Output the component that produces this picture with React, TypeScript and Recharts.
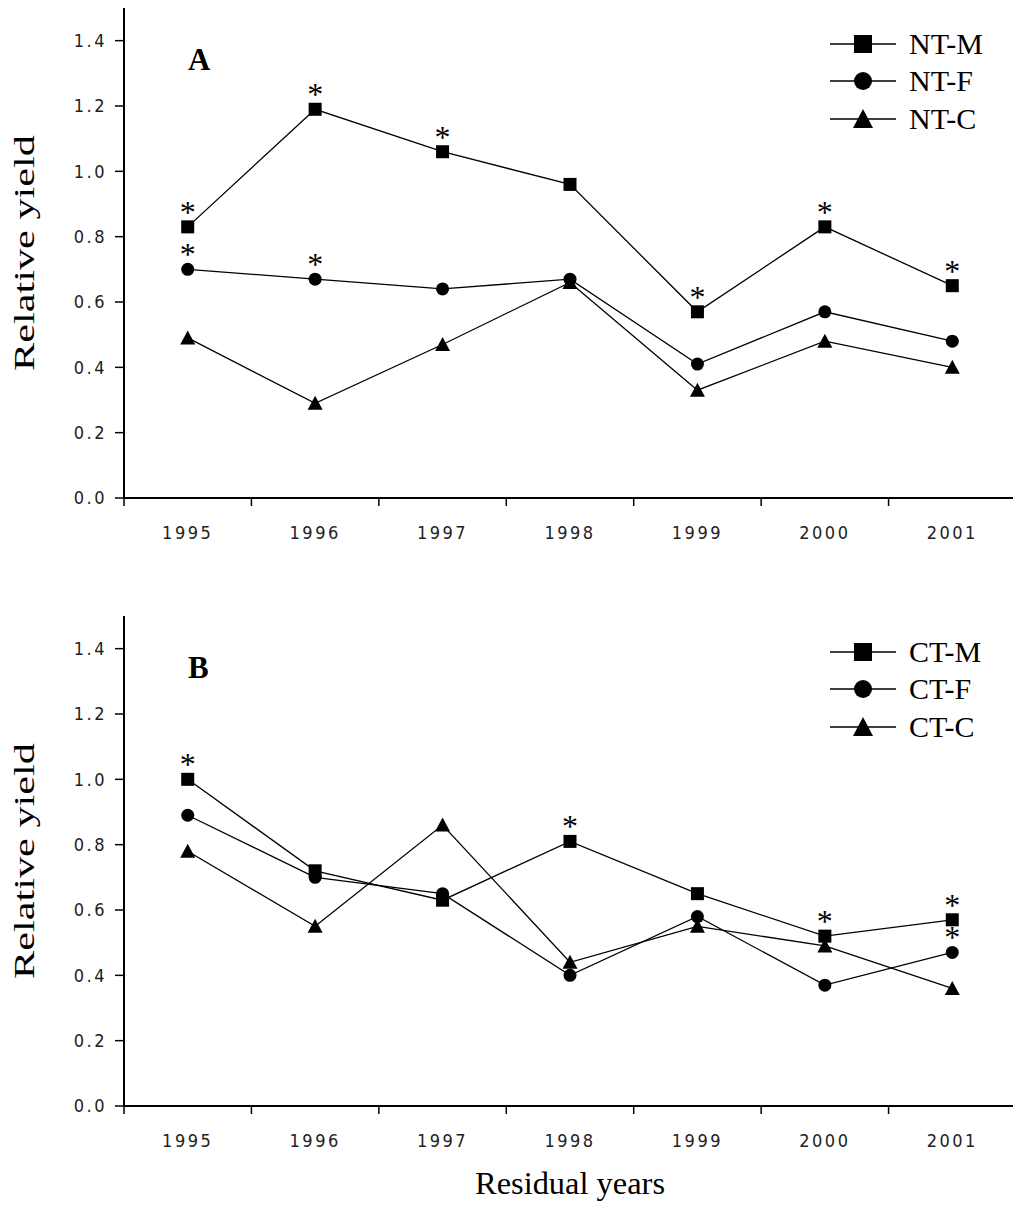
import { LineChart, Line, XAxis, YAxis, LabelList, Legend } from "recharts";

const years = ["1995", "1996", "1997", "1998", "1999", "2000", "2001"];

// panel A
const ntM = [0.83, 1.19, 1.06, 0.96, 0.57, 0.83, 0.65];
const ntF = [0.7, 0.67, 0.64, 0.67, 0.41, 0.57, 0.48];
const ntC = [0.49, 0.29, 0.47, 0.66, 0.33, 0.48, 0.4];
const ntMSig = [true, true, true, false, true, true, true];
const ntFSig = [true, true, false, false, false, false, false];

// panel B
const ctM = [1.0, 0.72, 0.63, 0.81, 0.65, 0.52, 0.57];
const ctF = [0.89, 0.7, 0.65, 0.4, 0.58, 0.37, 0.47];
const ctC = [0.78, 0.55, 0.86, 0.44, 0.55, 0.49, 0.36];
const ctMSig = [true, false, false, true, false, true, true];
const ctFSig = [false, false, false, false, false, false, true];

const yTicks = [0, 0.2, 0.4, 0.6, 0.8, 1.0, 1.2, 1.4];

const dataA = years.map((year, i) => ({
  year,
  m: ntM[i],
  f: ntF[i],
  c: ntC[i],
  mSig: ntMSig[i],
  fSig: ntFSig[i],
}));

const dataB = years.map((year, i) => ({
  year,
  m: ctM[i],
  f: ctF[i],
  c: ctC[i],
  mSig: ctMSig[i],
  fSig: ctFSig[i],
}));

const SERIF = "'Liberation Serif', 'Times New Roman', serif";
const NARROW = "'Liberation Sans Narrow', 'DejaVu Sans Condensed', sans-serif";

const CHART_W = 1030;
const PLOT_LEFT = 124;
const PLOT_RIGHT = 1016;
const HALF_STEP = (PLOT_RIGHT - PLOT_LEFT) / years.length / 2;

type Shape = "square" | "circle" | "triangle";

function Marker({ shape, cx, cy, size }: { shape: Shape; cx: number; cy: number; size: number }) {
  const h = size / 2;
  if (shape === "square") return <rect x={cx - h} y={cy - h} width={size} height={size} fill="#000" />;
  if (shape === "circle") return <circle cx={cx} cy={cy} r={h} fill="#000" />;
  return (
    <polygon
      points={`${cx},${cy - h - 1} ${cx - h - 1},${cy + h} ${cx + h + 1},${cy + h}`}
      fill="#000"
    />
  );
}

const dotOf = (shape: Shape) => (props: any) => {
  const { cx, cy, index } = props;
  if (cx == null || cy == null) return <g key={`d-${index}`} />;
  return (
    <g key={`d-${shape}-${index}`}>
      <Marker shape={shape} cx={cx} cy={cy} size={13} />
    </g>
  );
};

const renderStar = (props: any) => {
  const { x, y, value, index } = props;
  if (!value) return null;
  return (
    <text key={`s-${index}`} x={x} y={y - 4} textAnchor="middle" fontSize={32} fontFamily={SERIF} fill="#000">
      *
    </text>
  );
};

const XTick = (props: any) => {
  const { x, y, payload } = props;
  return (
    <g>
      <line x1={x - HALF_STEP} x2={x - HALF_STEP} y1={y} y2={y + 8} stroke="#000" strokeWidth={1.5} />
      <text
        x={x}
        y={y + 34}
        textAnchor="middle"
        dominantBaseline="central"
        fontSize={18}
        fontFamily={NARROW}
        letterSpacing={2.5}
        fill="#222"
      >
        {payload.value}
      </text>
    </g>
  );
};

const yTitle = (props: any) => {
  const { viewBox } = props;
  const cy = viewBox.y + viewBox.height / 2;
  return (
    <text
      x={24}
      y={cy}
      transform={`rotate(-90, 24, ${cy})`}
      textAnchor="middle"
      dominantBaseline="central"
      fontSize={29}
      textLength={236}
      lengthAdjust="spacingAndGlyphs"
      fontFamily={SERIF}
      fill="#000"
    >
      Relative yield
    </text>
  );
};

function makeLegend(names: string[]) {
  const shapes: Shape[] = ["square", "circle", "triangle"];
  return () => (
    <div>
      {names.map((n, i) => (
        <div key={n} style={{ display: "flex", alignItems: "center", height: 37.5 }}>
          <svg width={66} height={24} style={{ display: "block" }}>
            <line x1={0} x2={66} y1={12} y2={12} stroke="#000" strokeWidth={1.5} />
            <Marker shape={shapes[i]} cx={33} cy={12} size={18} />
          </svg>
          <span style={{ marginLeft: 13, fontFamily: SERIF, fontSize: 30, lineHeight: "30px", color: "#000" }}>
            {n}
          </span>
        </div>
      ))}
    </div>
  );
}

function Panel({
  data,
  names,
  letter,
  top,
  height,
  marginTop,
  xHeight,
  showXTitle,
}: {
  data: any[];
  names: string[];
  letter: string;
  top: number;
  height: number;
  marginTop: number;
  xHeight: number;
  showXTitle: boolean;
}) {
  return (
    <div style={{ position: "absolute", left: 0, top, width: CHART_W, height }}>
      <LineChart
        width={CHART_W}
        height={height}
        data={data}
        margin={{ top: marginTop, right: CHART_W - PLOT_RIGHT, left: 0, bottom: 0 }}
      >
        <XAxis
          dataKey="year"
          interval={0}
          padding={{ left: HALF_STEP, right: HALF_STEP }}
          height={xHeight}
          tickLine={false}
          tickSize={0}
          tickMargin={0}
          axisLine={{ stroke: "#000", strokeWidth: 2 }}
          tick={<XTick />}
          label={
            showXTitle
              ? (p: any) => (
                  <text
                    x={p.viewBox.x + p.viewBox.width / 2}
                    y={p.viewBox.y + 77}
                    textAnchor="middle"
                    dominantBaseline="central"
                    fontSize={31}
                    textLength={190}
                    lengthAdjust="spacingAndGlyphs"
                    fontFamily={SERIF}
                    fill="#000"
                  >
                    Residual years
                  </text>
                )
              : undefined
          }
        />
        <XAxis
          xAxisId="top"
          dataKey="year"
          orientation="top"
          height={0}
          tick={false}
          tickLine={false}
          axisLine={{ stroke: "#000", strokeWidth: 2 }}
        />
        <YAxis
          domain={[0, 1.5]}
          ticks={yTicks}
          width={PLOT_LEFT}
          tickSize={9}
          tickMargin={8}
          tickFormatter={(v: number) => v.toFixed(1)}
          tickLine={{ stroke: "#000", strokeWidth: 1.5 }}
          axisLine={{ stroke: "#000", strokeWidth: 2 }}
          tick={{ fontSize: 18, fontFamily: NARROW, fill: "#222", letterSpacing: 2.5 }}
          label={yTitle}
        />
        <Legend
          layout="horizontal"
          verticalAlign="middle"
          align="center"
          content={makeLegend(names)}
          wrapperStyle={{ position: "absolute", left: 830, top: marginTop + 17, width: 190 }}
        />
        <Line dataKey="m" name={names[0]} stroke="#000" strokeWidth={1.3} dot={dotOf("square")} isAnimationActive={false}>
          <LabelList dataKey="mSig" content={renderStar} />
        </Line>
        <Line dataKey="f" name={names[1]} stroke="#000" strokeWidth={1.3} dot={dotOf("circle")} isAnimationActive={false}>
          <LabelList dataKey="fSig" content={renderStar} />
        </Line>
        <Line dataKey="c" name={names[2]} stroke="#000" strokeWidth={1.3} dot={dotOf("triangle")} isAnimationActive={false} />
      </LineChart>
      <div
        style={{
          position: "absolute",
          left: 188,
          top: marginTop + 36,
          fontFamily: SERIF,
          fontWeight: "bold",
          fontSize: 31,
          lineHeight: "31px",
          color: "#000",
        }}
      >
        {letter}
      </div>
    </div>
  );
}

export default function App() {
  return (
    <div
      style={{
        position: "absolute",
        left: 0,
        top: 0,
        width: 1013,
        height: 1232,
        overflow: "hidden",
        background: "#fff",
      }}
    >
      <Panel
        data={dataA}
        names={["NT-M", "NT-F", "NT-C"]}
        letter="A"
        top={0}
        height={560}
        marginTop={8}
        xHeight={62}
        showXTitle={false}
      />
      <Panel
        data={dataB}
        names={["CT-M", "CT-F", "CT-C"]}
        letter="B"
        top={600}
        height={632}
        marginTop={16}
        xHeight={126}
        showXTitle={true}
      />
    </div>
  );
}
